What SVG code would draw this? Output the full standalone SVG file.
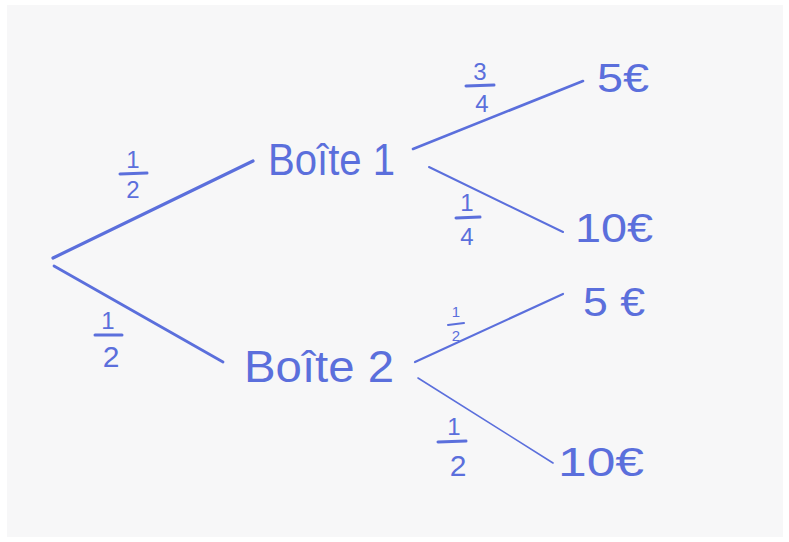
<svg xmlns="http://www.w3.org/2000/svg" width="789" height="542" viewBox="0 0 789 542">
<style>
.ln{stroke:#5b6fdc;stroke-linecap:round;fill:none}
.t{font-family:"Liberation Sans","DejaVu Sans",sans-serif;fill:#5b6fdc}
.node{font-size:44px;font-weight:300}
.fr{font-size:24px;text-anchor:middle}
.bar{stroke:#5b6fdc;stroke-width:3;stroke-linecap:round}
</style>
<rect width="789" height="542" fill="#ffffff"/>
<rect x="7" y="5" width="776" height="532" fill="#f7f7f8"/>
<g id="connectors">
<line class="ln" x1="53" y1="258" x2="253" y2="161" stroke-width="3.2"/>
<line class="ln" x1="54" y1="266" x2="223" y2="362" stroke-width="2.8"/>
<line class="ln" x1="413" y1="149" x2="583" y2="81" stroke-width="2.6"/>
<line class="ln" x1="429" y1="167" x2="563" y2="232" stroke-width="2"/>
<line class="ln" x1="415" y1="362" x2="563" y2="294" stroke-width="2.2"/>
<line class="ln" x1="418" y1="378" x2="553" y2="463" stroke-width="1.6"/>
</g>
<g id="labels">
<text class="t fr" x="133" y="168">1</text>
<line class="bar" x1="120" y1="174" x2="147" y2="173"/>
<text class="t fr" x="133" y="198">2</text>
<text class="t fr" x="108" y="329">1</text>
<line class="bar" x1="95" y1="335" x2="122" y2="335"/>
<text class="t fr" x="111" y="367" style="font-size:30px">2</text>
<text class="t fr" x="480" y="80">3</text>
<line class="bar" x1="466" y1="86" x2="494" y2="85"/>
<text class="t fr" x="482" y="112">4</text>
<text class="t fr" x="467" y="211">1</text>
<line class="bar" x1="456" y1="218" x2="480" y2="217"/>
<text class="t fr" x="467" y="245">4</text>
<text class="t fr" x="456" y="317" style="font-size:15px">1</text>
<line class="bar" x1="448" y1="325" x2="464" y2="323" style="stroke-width:2"/>
<text class="t fr" x="456" y="341" style="font-size:15px">2</text>
<text class="t fr" x="454" y="435">1</text>
<line class="bar" x1="438" y1="442" x2="466" y2="441"/>
<text class="t fr" x="458" y="476" style="font-size:30px">2</text>
</g>
<g id="boite1"><text class="t node" x="268" y="175" textLength="127" lengthAdjust="spacingAndGlyphs">Boîte 1</text></g>
<g id="boite2"><text class="t node" x="244" y="382" textLength="150" lengthAdjust="spacingAndGlyphs">Boîte 2</text></g>
<g id="g5a"><text class="t" x="597" y="92" style="font-size:40px" textLength="52" lengthAdjust="spacingAndGlyphs">5€</text></g>
<g id="g10a"><text class="t" x="575" y="242" style="font-size:40px" textLength="78" lengthAdjust="spacingAndGlyphs">10€</text></g>
<g id="g5b"><text class="t" x="583" y="316" style="font-size:40px" textLength="62" lengthAdjust="spacingAndGlyphs">5 €</text></g>
<g id="g10b"><text class="t" x="558" y="476" style="font-size:40px" textLength="86" lengthAdjust="spacingAndGlyphs">10€</text></g>
</svg>
